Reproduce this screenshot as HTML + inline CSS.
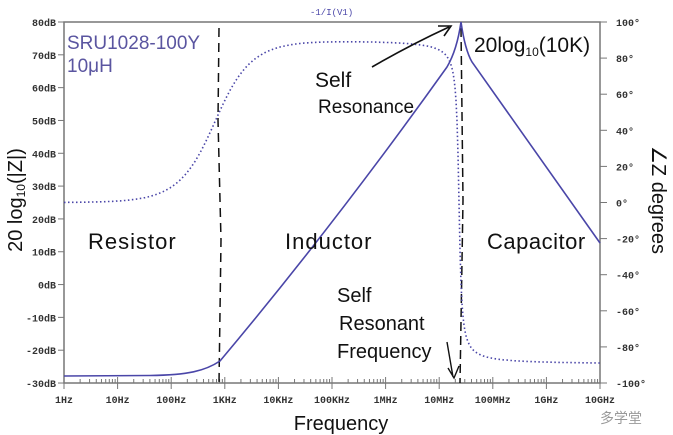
<!DOCTYPE html>
<html><head><meta charset="utf-8"><style>
html,body{margin:0;padding:0;background:#fff;}
svg{display:block;}
.m{font-family:"Liberation Mono",monospace;font-size:10px;fill:#333;font-weight:bold;}
.h{font-family:"Liberation Sans",sans-serif;fill:#111;font-weight:normal;}
</style></head><body>
<svg id="s" width="673" height="435" viewBox="0 0 673 435" xmlns="http://www.w3.org/2000/svg">
<rect x="64" y="22" width="536" height="361" fill="none" stroke="#777" stroke-width="1.5"/>
<g id="ticks" stroke="#777" stroke-width="1"></g>
<g id="lab"></g>
<path id="dash1" d="M219,28 L218,120 L221,240 L219,383" stroke="#111" stroke-width="1.5" stroke-dasharray="9,6" fill="none"/>
<path id="dash2" d="M461,28 L463,200 L460,383" stroke="#111" stroke-width="1.5" stroke-dasharray="9,5" fill="none"/>
<path d="M64,376 L150,375.5 C188,375 205,371 220,361 Q335,224 447,67 Q457,50 461,22 Q465,50 472,62 L600,243" stroke="#4a46a8" stroke-width="1.6" fill="none"/>
<path id="ph" stroke="#4a46a8" stroke-width="1.6" stroke-dasharray="1.5,2.5" fill="none"/>
<text x="310" y="15" font-family="Liberation Mono,monospace" font-size="9" fill="#4a46a8">-1/I(V1)</text>
<text x="67" y="49" font-family="Liberation Sans,sans-serif" font-size="19" fill="#5a55a0">SRU1028-100Y</text>
<text x="67" y="72" font-family="Liberation Sans,sans-serif" font-size="19" fill="#5a55a0">10μH</text>
<text class="h" x="88" y="249" font-size="22" letter-spacing="1">Resistor</text>
<text class="h" x="285" y="249" font-size="22" letter-spacing="1">Inductor</text>
<text class="h" x="487" y="249" font-size="22" letter-spacing="0.5">Capacitor</text>
<text class="h" x="315" y="87" font-size="21">Self</text>
<text class="h" x="318" y="113" font-size="19">Resonance</text>
<text class="h" x="474" y="52" font-size="21">20log<tspan font-size="12" dy="4">10</tspan><tspan dy="-4">(10K)</tspan></text>
<text class="h" x="337" y="302" font-size="20">Self</text>
<text class="h" x="339" y="330" font-size="20">Resonant</text>
<text class="h" x="337" y="358" font-size="20">Frequency</text>
<path d="M372,67 Q410,45 449,27 M438,26 L451,26 L444,36" stroke="#111" stroke-width="1.6" fill="none"/>
<path d="M447,342 L453,377 M448,368 L454,378 L459,366" stroke="#111" stroke-width="1.4" fill="none"/>
<text x="22" y="200" transform="rotate(-90 22 200)" text-anchor="middle" font-family="Liberation Sans,sans-serif" font-size="20" fill="#111">20 log<tspan font-size="12" dy="3">10</tspan><tspan dy="-3">(|Z|)</tspan></text>
<text x="652" y="200" transform="rotate(90 652 200)" text-anchor="middle" font-family="Liberation Sans,sans-serif" font-size="20" fill="#111">∠Z degrees</text>
<text x="341" y="430" text-anchor="middle" font-family="Liberation Sans,sans-serif" font-size="20" fill="#111">Frequency</text>
<text x="600" y="423" font-family="Liberation Sans,'Noto Sans CJK SC',sans-serif" font-size="14" fill="#999">多学堂</text>
</svg>
<script>
var NS="http://www.w3.org/2000/svg",t=document.getElementById("ticks"),l=document.getElementById("lab");
function ln(a,b,c,d){var e=document.createElementNS(NS,"line");e.setAttribute("x1",a);e.setAttribute("y1",b);e.setAttribute("x2",c);e.setAttribute("y2",d);t.appendChild(e);}
function tx(x,y,s,a){var e=document.createElementNS(NS,"text");e.setAttribute("x",x);e.setAttribute("y",y);e.setAttribute("class","m");if(a)e.setAttribute("text-anchor",a);e.textContent=s;l.appendChild(e);}
for(var i=0;i<12;i++){var y=22+i*32.82;ln(58,y,64,y);tx(56,y+4,(80-i*10)+"dB","end");}
for(var i=0;i<11;i++){var y=22+i*36.1;ln(600,y,607,y);tx(616,y+4,(100-i*20)+"°");}
var xl=["1Hz","10Hz","100Hz","1KHz","10KHz","100KHz","1MHz","10MHz","100MHz","1GHz","10GHz"];
for(var d=0;d<11;d++){var x=64+d*53.6;ln(x,383,x,389);ln(x,383,x,377);tx(x,403,xl[d],"middle");
 if(d<10)for(var k=2;k<10;k++){var xx=x+Math.log10(k)*53.6;ln(xx,383,xx,379);}}
var p="";
for(var x=64;x<=600;x+=1){var phL=Math.atan(Math.pow(10,(x-215)/53.6))*180/Math.PI;
 var ph=phL-180*(0.5+Math.atan((x-459)/2)/Math.PI);var y=202-ph*1.805;p+=(x==64?"M":"L")+x+","+y.toFixed(1);}
document.getElementById("ph").setAttribute("d",p);
</script>
</body></html>
